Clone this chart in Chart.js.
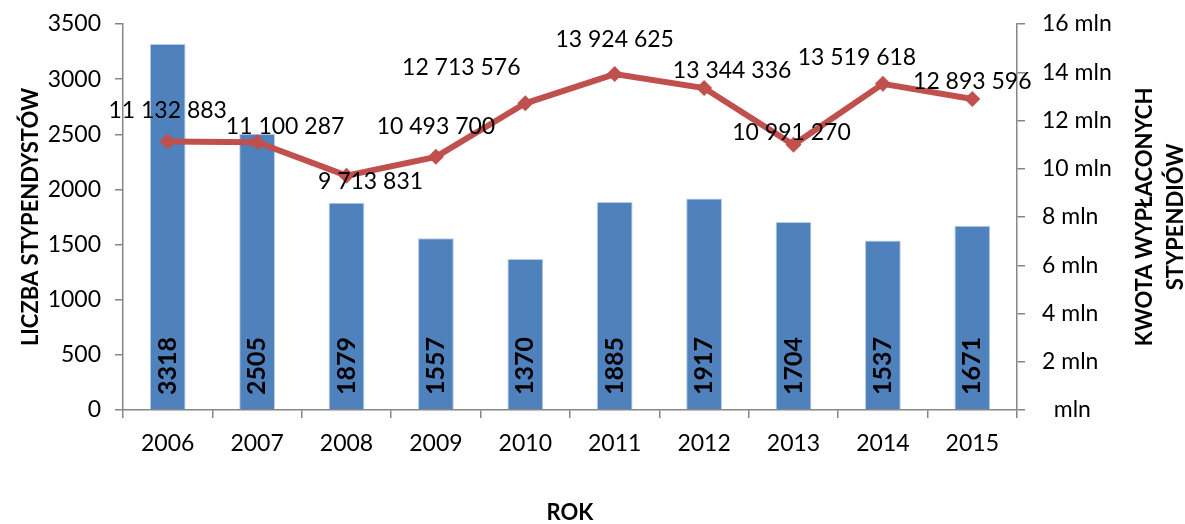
<!DOCTYPE html>
<html>
<head>
<meta charset="utf-8">
<script src="https://cdn.jsdelivr.net/npm/chart.js@4/dist/chart.umd.min.js"></script>
<style>
  html, body { margin: 0; padding: 0; background: #fff; }
  #wrap { width: 1185px; height: 524px; }
</style>
</head>
<body>
<div id="wrap"><canvas id="chart" width="1185" height="524"></canvas></div>
<script>
const years = ['2006', '2007', '2008', '2009', '2010', '2011', '2012', '2013', '2014', '2015'];
const scholars = [3318, 2505, 1879, 1557, 1370, 1885, 1917, 1704, 1537, 1671];
const amounts = [11132883, 11100287, 9713831, 10493700, 12713576, 13924625, 13344336, 10991270, 13519618, 12893596];

const FONT = 'Lato, "Open Sans", sans-serif';
const axisGray = '#868686';

// where each amount label sits relative to its point (dx, dy)
const labelShift = [[0, -31], [28, -16], [24, 6], [0, -30], [-64, -36], [0, -34], [28, -17], [-2, -12], [-26, -26], [0, -17]];

function fmtSpace(v) {
  return String(v).replace(/\B(?=(\d{3})+(?!\d))/g, ' ');
}

const labelsPlugin = {
  id: 'labels',
  afterDatasetsDraw(chart) {
    const ctx = chart.ctx;
    const bars = chart.getDatasetMeta(1).data;
    const pts = chart.getDatasetMeta(0).data;
    const base = chart.scales.y.getPixelForValue(0);
    ctx.save();
    ctx.fillStyle = '#000';
    // bar values, rotated
    ctx.font = 'bold 25px ' + FONT;
    bars.forEach((b, i) => {
      ctx.save();
      ctx.translate(b.x, base - 15);
      ctx.rotate(-Math.PI / 2);
      ctx.textAlign = 'left';
      ctx.textBaseline = 'middle';
      ctx.fillText(String(scholars[i]), 0, 0);
      ctx.restore();
    });
    // amount values
    ctx.font = '23px ' + FONT;
    ctx.textAlign = 'center';
    ctx.textBaseline = 'middle';
    pts.forEach((p, i) => {
      const s = labelShift[i];
      ctx.fillText(fmtSpace(amounts[i]), p.x + s[0], p.y + s[1]);
    });
    ctx.restore();
  },
  afterDraw(chart) {
    const ctx = chart.ctx;
    const a = chart.chartArea;
    const midY = (a.top + a.bottom) / 2;
    ctx.save();
    ctx.fillStyle = '#000';
    ctx.font = 'bold 22px ' + FONT;
    ctx.textAlign = 'center';
    ctx.textBaseline = 'middle';
    ctx.fillText('ROK', (a.left + a.right) / 2, 513);
    ctx.save();
    ctx.translate(31, midY);
    ctx.rotate(-Math.PI / 2);
    ctx.fillText('LICZBA STYPENDYSTÓW', 0, 0);
    ctx.restore();
    ctx.save();
    ctx.translate(1145, midY);
    ctx.rotate(-Math.PI / 2);
    ctx.fillText('KWOTA WYPŁACONYCH', 0, 0);
    ctx.fillText('STYPENDIÓW', 0, 31);
    ctx.restore();
    ctx.restore();
  }
};

function fixPad(width) {
  return s => {
    s.width = width;
    s.paddingTop = 0;
    s.paddingBottom = 0;
  };
}

new Chart(document.getElementById('chart'), {
  data: {
    labels: years,
    datasets: [
      {
        type: 'line',
        label: 'Kwota',
        data: amounts,
        yAxisID: 'y1',
        borderColor: '#C0504D',
        backgroundColor: '#C0504D',
        borderWidth: 6,
        pointStyle: 'rectRot',
        pointRadius: 8,
        pointBorderWidth: 0,
        tension: 0,
        order: 0
      },
      {
        type: 'bar',
        label: 'Liczba',
        data: scholars,
        yAxisID: 'y',
        backgroundColor: '#4F81BD',
        borderColor: '#B9CDE5',
        borderWidth: { left: 1, right: 1, top: 1, bottom: 0 },
        barPercentage: 0.4,
        categoryPercentage: 1.0,
        order: 1
      }
    ]
  },
  options: {
    responsive: false,
    animation: false,
    layout: { padding: { top: 24, left: 0, right: 0, bottom: 0 } },
    plugins: {
      legend: { display: false },
      tooltip: { enabled: false }
    },
    scales: {
      x: {
        offset: true,
        grid: { offset: true, drawOnChartArea: false, color: axisGray, tickLength: 8, lineWidth: 1.5 },
        border: { color: axisGray, width: 1.5 },
        ticks: { color: '#000', font: { family: FONT, size: 23 }, padding: 12, maxRotation: 0 },
        afterFit(s) {
          s.height = 114;
          s.paddingLeft = 0;
          s.paddingRight = 0;
        }
      },
      y: {
        position: 'left',
        min: 0,
        max: 3500,
        grid: { drawOnChartArea: false, color: axisGray, tickLength: 8, lineWidth: 1.5 },
        border: { color: axisGray, width: 1.5 },
        ticks: { stepSize: 500, color: '#000', font: { family: FONT, size: 23 }, padding: 14, callback: v => String(v) },
        afterFit: fixPad(123)
      },
      y1: {
        position: 'right',
        min: 0,
        max: 16000000,
        grid: { drawOnChartArea: false, color: axisGray, tickLength: 8, lineWidth: 1.5 },
        border: { color: axisGray, width: 1.5 },
        ticks: {
          stepSize: 2000000,
          color: '#000',
          font: { family: FONT, size: 23 },
          padding: 17,
          callback: v => (v === 0 ? '  mln' : (v / 1000000) + ' mln')
        },
        afterFit: fixPad(168)
      }
    }
  },
  plugins: [labelsPlugin]
});
</script>
</body>
</html>
